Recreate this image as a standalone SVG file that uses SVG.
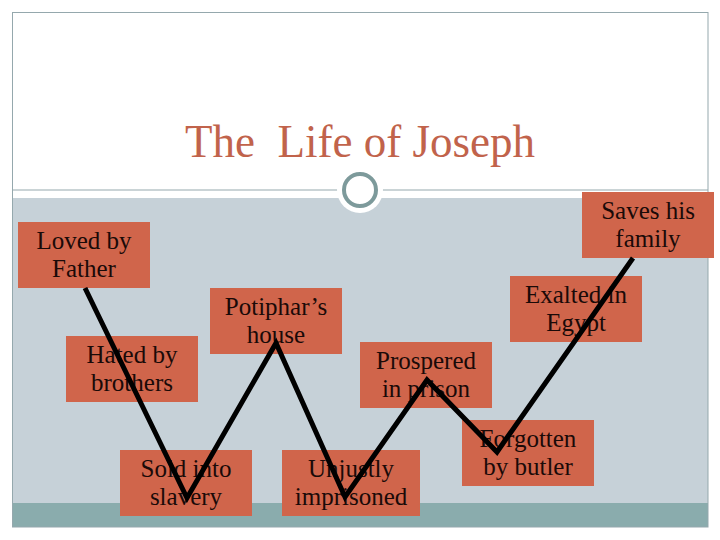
<svg xmlns="http://www.w3.org/2000/svg" width="720" height="540" viewBox="0 0 720 540">
<style>
.box{fill:#d0654b}
.lbl{font-family:"Liberation Serif","DejaVu Serif",serif;font-size:25px;fill:#1a0a08;text-anchor:middle}
.title{font-family:"Liberation Serif","DejaVu Serif",serif;font-size:46px;fill:#c1634b;text-anchor:middle}
</style>
<rect x="0" y="0" width="720" height="540" fill="#ffffff"/>
<rect x="12" y="198" width="696" height="306" fill="#c6d1d8"/>
<rect x="12" y="503" width="696" height="24" fill="#8aacad"/>
<rect x="12.5" y="12.5" width="695.5" height="514.5" fill="none" stroke="#95a8ad" stroke-width="1"/>
<line x1="12" y1="190" x2="708" y2="190" stroke="#95a8ad" stroke-width="1"/>
<circle cx="360" cy="190" r="23" fill="#ffffff"/>
<circle cx="360" cy="190" r="16" fill="#ffffff" stroke="#7d9a9b" stroke-width="4"/>
<text class="title" x="360" y="157" textLength="350" lengthAdjust="spacingAndGlyphs" xml:space="preserve">The  Life of Joseph</text>
<g id="n1"><rect class="box" x="18" y="222" width="132" height="66"/><text class="lbl" x="84" y="249">Loved by</text><text class="lbl" x="84" y="277">Father</text></g>
<g id="n2"><rect class="box" x="66" y="336" width="132" height="66"/><text class="lbl" x="132" y="363">Hated by</text><text class="lbl" x="132" y="391">brothers</text></g>
<g id="n3"><rect class="box" x="120" y="450" width="132" height="66"/><text class="lbl" x="186" y="477">Sold into</text><text class="lbl" x="186" y="505">slavery</text></g>
<g id="n4"><rect class="box" x="210" y="288" width="132" height="66"/><text class="lbl" x="276" y="315">Potiphar’s</text><text class="lbl" x="276" y="343">house</text></g>
<g id="n5"><rect class="box" x="282" y="450" width="138" height="66"/><text class="lbl" x="351" y="477">Unjustly</text><text class="lbl" x="351" y="505">imprisoned</text></g>
<g id="n6"><rect class="box" x="360" y="342" width="132" height="66"/><text class="lbl" x="426" y="369">Prospered</text><text class="lbl" x="426" y="397">in prison</text></g>
<g id="n7"><rect class="box" x="462" y="420" width="132" height="66"/><text class="lbl" x="528" y="447">Forgotten</text><text class="lbl" x="528" y="475">by butler</text></g>
<g id="n8"><rect class="box" x="510" y="276" width="132" height="66"/><text class="lbl" x="576" y="303">Exalted in</text><text class="lbl" x="576" y="331">Egypt</text></g>
<g id="n9"><rect class="box" x="582" y="192" width="132" height="66"/><text class="lbl" x="648" y="219">Saves his</text><text class="lbl" x="648" y="247">family</text></g>
<g id="connectors"><polyline points="85,288 187,498 276,343 345,497 427,380 497,452 633,258" fill="none" stroke="#000000" stroke-width="5" stroke-linejoin="miter"/></g>
</svg>
